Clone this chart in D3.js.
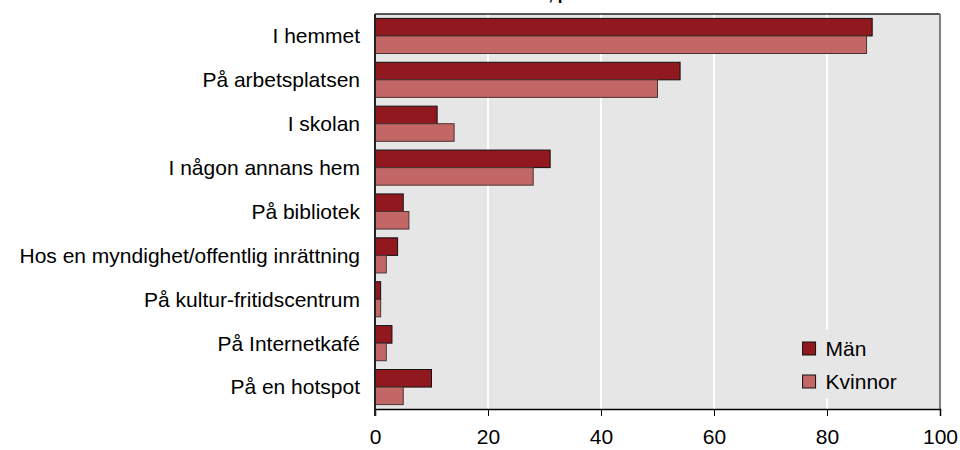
<!DOCTYPE html>
<html>
<head>
<meta charset="utf-8">
<script src="https://cdn.jsdelivr.net/npm/d3@7"></script>
<style>
  body { margin: 0; background: #fff; }
  text { font-family: "Liberation Sans", Arial, sans-serif; fill: #000; }
</style>
</head>
<body>
<div id="chart"></div>
<script>
var categories = ["I hemmet", "På arbetsplatsen", "I skolan", "I någon annans hem", "På bibliotek",
  "Hos en myndighet/offentlig inrättning", "På kultur-fritidscentrum", "På Internetkafé", "På en hotspot"]
var seriesNames = ["Män", "Kvinnor"]
var man = [88, 54, 11, 31, 5, 4, 1, 3, 10]
var kvinnor = [87, 50, 14, 28, 6, 2, 1, 2, 5]
var xTicks = [0, 20, 40, 60, 80, 100]
var title = "Platser där man använt Internet, procent"

var margin = { top: 14, left: 375, right: 20, bottom: 41 }
var widthSvg = 960
var heightSvg = 450
var widthScale = widthSvg - margin.left - margin.right
var heightScale = heightSvg - margin.top - margin.bottom
var colors = ["#921820", "#c26666"]

var svg = d3.select("#chart").append("svg")
  .attr("width", widthSvg)
  .attr("height", heightSvg)

// title, mostly cut off at the top edge
svg.append("text")
  .attr("x", 620)
  .attr("y", 0)
  .attr("text-anchor", "end")
  .style("font-size", "17px")
  .style("font-weight", "bold")
  .text(title)

var g = svg.append("g")
  .attr("transform", "translate(" + margin.left + "," + margin.top + ")")

var x = d3.scaleLinear().domain([0, 100]).range([0, widthScale])
var y = d3.scaleBand().domain(categories).range([0, heightScale])
  .paddingInner(0.2).paddingOuter(0.1)
var ySub = d3.scaleBand().domain(seriesNames).range([0, y.bandwidth()])

g.append("rect")
  .attr("width", widthScale)
  .attr("height", heightScale)
  .attr("fill", "#e6e6e6")

g.selectAll(".grid")
  .data(xTicks.slice(1, -1))
  .enter().append("line")
  .attr("x1", function(d) { return x(d) })
  .attr("x2", function(d) { return x(d) })
  .attr("y1", 0)
  .attr("y2", heightScale)
  .attr("stroke", "#fff")
  .attr("stroke-width", 2)

// borders
g.append("line").attr("x1", 0).attr("x2", widthScale).attr("y1", 0).attr("y2", 0)
  .attr("stroke", "#222").attr("stroke-width", 1.5)
g.append("line").attr("x1", widthScale).attr("x2", widthScale).attr("y1", 0).attr("y2", heightScale)
  .attr("stroke", "#808080").attr("stroke-width", 2)

var rows = categories.map(function(c, i) {
  return { cat: c, values: [man[i], kvinnor[i]] }
})

var groups = g.selectAll(".row")
  .data(rows)
  .enter().append("g")
  .attr("transform", function(d) { return "translate(0," + y(d.cat) + ")" })

groups.selectAll("rect")
  .data(function(d) { return d.values.map(function(v, j) { return { s: seriesNames[j], v: v, j: j } }) })
  .enter().append("rect")
  .attr("x", 0)
  .attr("y", function(d) { return ySub(d.s) })
  .attr("width", function(d) { return x(d.v) })
  .attr("height", ySub.bandwidth())
  .attr("fill", function(d) { return colors[d.j] })
  .attr("stroke", function(d) { return d.j === 0 ? "#111" : "#4a3333" })
  .attr("stroke-width", 1)

// category labels
g.selectAll(".catLabel")
  .data(categories)
  .enter().append("text")
  .attr("x", -15)
  .attr("y", function(d) { return y(d) + y.bandwidth() / 2 })
  .attr("dy", "0.35em")
  .attr("text-anchor", "end")
  .style("font-size", "21px")
  .text(function(d) { return d })

// axes
var xAxis = d3.axisBottom(x).tickValues(xTicks).tickSize(7).tickPadding(13)
var xg = g.append("g")
  .attr("transform", "translate(0," + heightScale + ")")
  .call(xAxis)
xg.select(".domain").attr("stroke", "#000").attr("stroke-width", 1.5)
xg.selectAll(".tick line").attr("stroke", "#000")
xg.selectAll(".tick text").style("font-size", "21px").style("font-family", "Liberation Sans, Arial, sans-serif").attr("fill", "#000")

g.append("line").attr("x1", 0).attr("x2", 0).attr("y1", 0).attr("y2", heightScale + 7)
  .attr("stroke", "#222").attr("stroke-width", 2)

// legend
var legend = g.append("g").attr("transform", "translate(" + x(73.2) + "," + (heightScale - 79) + ")")
legend.append("rect")
  .attr("width", 125).attr("height", 68)
  .attr("fill", "#e6e6e6")
seriesNames.forEach(function(s, i) {
  legend.append("rect")
    .attr("x", 14).attr("y", 12 + i * 33)
    .attr("width", 13).attr("height", 13)
    .attr("fill", colors[i])
    .attr("stroke", "#111")
  legend.append("text")
    .attr("x", 37).attr("y", 19 + i * 33)
    .attr("dy", "0.35em")
    .style("font-size", "21px")
    .text(s)
})
</script>
</body>
</html>
